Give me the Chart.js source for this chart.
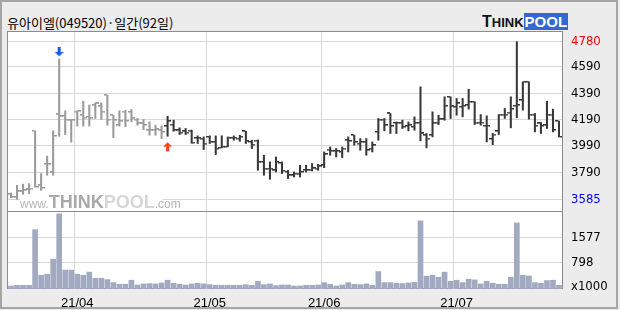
<!DOCTYPE html>
<html>
<head>
<meta charset="utf-8">
<script src="https://cdn.jsdelivr.net/npm/chart.js@4.4.1/dist/chart.umd.min.js"></script>
<style>
  body { margin: 0; background: #fff; }
  #wrap { position: relative; width: 620px; height: 310px; background: #ececec; overflow: hidden; }
  #frame { position: absolute; left: 0; top: 0; width: 614px; height: 305px; border: 2px solid #a6a6a6; }
  #panel { position: absolute; left: 7px; top: 31px; width: 554px; height: 256px; border: 1px solid #8c8c8c; background: #fff; }
  #sep { position: absolute; left: 7px; top: 211px; width: 556px; height: 1px; background: #8c8c8c; }
  #title { position: absolute; left: 7px; top: 13px; font: 13px "Noto Sans CJK KR", sans-serif; color: #000; white-space: nowrap; }
  #logo { position: absolute; left: 482px; top: 14px; height: 15px; font: bold 13px "Liberation Sans", Arial, sans-serif; white-space: nowrap; line-height: 15px; }
  #logo .k { color: #111; }
  #logo .k b { font-size: 16px; }
  #logo .p { background: #3467d2; color: #fff; padding: 0 1px; font-size: 15px; }
  #wm { position: absolute; left: 20px; top: 195px; width: 143px; height: 15px; background: #fff; white-space: nowrap;
        font: bold 18px "Liberation Sans", Arial, sans-serif; line-height: 15px; color: #a9a9a9; }
  #wm .s { font: 12px "Liberation Sans", Arial, sans-serif; color: #b4b4b4; }
  #wm .p { color: #d6d6d6; }
  #unit { position: absolute; left: 571px; top: 278px; font: 13px "Liberation Sans Narrow", "DejaVu Sans Condensed", sans-serif; color: #000; }
  canvas { position: absolute; }
</style>
</head>
<body>
<div id="wrap">
  <div id="frame"></div>
  <div id="panel"></div>
  <div id="sep"></div>
  <div id="title">유아이엘(049520)·일간(92일)</div>
  <div id="logo"><span class="k"><b>T</b>HINK</span><span class="p">POOL</span></div>
  <div style="position:absolute;left:0;top:32px;width:620px;height:179px"><canvas id="priceChart"></canvas></div>
  <div style="position:absolute;left:0;top:212px;width:620px;height:98px"><canvas id="volChart"></canvas></div>
  <div id="wm"><span class="s">www.</span>THINK<span class="p">POOL</span><span class="s">.com</span></div>
  <div id="unit">x1000</div>
</div>
<script>
// trading days, 2021-03-17 .. 2021-07-26
var marDays = [17, 18, 19, 22, 23, 24, 25, 26, 29, 30, 31];
var aprDays = [1, 2, 5, 6, 7, 8, 9, 12, 13, 14, 15, 16, 19, 20, 21, 22, 23, 26, 27, 28, 29, 30];
var mayDays = [3, 4, 6, 7, 10, 11, 12, 13, 14, 17, 18, 20, 21, 24, 25, 26, 27, 28, 31];
var junDays = [1, 2, 3, 4, 7, 8, 9, 10, 11, 14, 15, 16, 17, 18, 21, 22, 23, 24, 25, 28, 29, 30];
var julDays = [1, 2, 5, 6, 7, 8, 9, 12, 13, 14, 15, 16, 19, 20, 21, 22, 23, 26];

var opens = [3623, 3600, 3645, 3660, 4104, 3690, 3851, 3790, 4230, 4215, 4185, 4250, 4223, 4210, 4299, 4290,
  4375, 4223, 4147, 4250, 4248, 4190, 4160, 4109, 4110, 4109, 4140, 4152, 4109, 4101, 4105, 4050,
  4046, 4058, 4020, 3975, 3983, 4051, 4046, 4101, 4020, 4030, 3868, 3818, 3805, 3860, 3792, 3767,
  3780, 3805, 3810, 3818, 3843, 3962, 3952, 3944, 4033, 4071, 4008, 4020, 3970, 4096, 4190, 4236,
  4165, 4165, 4140, 4134, 4165, 4071, 4071, 4167, 4193, 4362, 4286, 4286, 4299, 4324, 4167, 4142,
  4041, 4101, 4228, 4243, 4294, 4337, 4476, 4228, 4160, 4147, 4228, 4178];
var highs = [3633, 3691, 3699, 3704, 4104, 3780, 3912, 4104, 4650, 4256, 4190, 4256, 4329, 4300, 4317, 4317,
  4375, 4223, 4256, 4260, 4266, 4198, 4190, 4172, 4147, 4142, 4215, 4185, 4127, 4122, 4110, 4066,
  4058, 4066, 4066, 4066, 4058, 4066, 4071, 4101, 4033, 4035, 3919, 3868, 3906, 3868, 3805, 3792,
  3843, 3843, 3856, 3850, 3944, 3982, 3970, 3982, 4058, 4071, 4046, 4046, 4020, 4198, 4198, 4236,
  4172, 4185, 4172, 4210, 4438, 4084, 4248, 4223, 4362, 4362, 4350, 4350, 4420, 4324, 4228, 4218,
  4084, 4228, 4274, 4362, 4780, 4476, 4476, 4236, 4167, 4329, 4269, 4178];
var lows = [3597, 3585, 3623, 3628, 3678, 3653, 3767, 3767, 4063, 4076, 4018, 4140, 4140, 4140, 4198, 4190,
  4147, 4053, 4140, 4135, 4172, 4147, 4114, 4071, 4071, 4046, 4063, 4101, 4076, 4076, 4010, 4008,
  3962, 4008, 3924, 3975, 3983, 4033, 4025, 4008, 3970, 3805, 3767, 3737, 3792, 3780, 3742, 3754,
  3754, 3792, 3800, 3805, 3825, 3919, 3906, 3901, 3944, 3995, 3957, 3919, 3944, 4033, 4104, 4084,
  4084, 4122, 4104, 4109, 4028, 3975, 4058, 4152, 4185, 4198, 4223, 4210, 4269, 4152, 4147, 4020,
  3999, 4076, 4198, 4127, 4203, 4261, 4193, 4096, 4084, 4122, 4096, 4058];
var closes = [3602, 3645, 3653, 3666, 3678, 3670, 3851, 4066, 4215, 4190, 4185, 4253, 4205, 4200, 4312, 4250,
  4190, 4185, 4180, 4180, 4198, 4160, 4147, 4109, 4115, 4096, 4177, 4109, 4091, 4091, 4015, 4048,
  4008, 4020, 3970, 3983, 4051, 4051, 4058, 4025, 4000, 3868, 3818, 3818, 3868, 3800, 3767, 3780,
  3792, 3805, 3820, 3835, 3927, 3952, 3952, 3970, 4028, 4020, 4020, 3957, 3995, 4190, 4147, 4140,
  4165, 4135, 4147, 4165, 4084, 4046, 4165, 4193, 4293, 4290, 4312, 4294, 4324, 4167, 4167, 4142,
  4076, 4228, 4228, 4269, 4299, 4476, 4228, 4142, 4142, 4228, 4109, 4058];
// volume, x1000 shares
var volumes = [92, 113, 113, 113, 1811, 421, 451, 912, 2293, 577, 577, 451, 421, 513, 328, 328,
  287, 195, 144, 144, 267, 123, 154, 164, 154, 185, 267, 175, 144, 123, 154, 175,
  154, 133, 113, 113, 113, 113, 113, 133, 113, 236, 133, 154, 103, 123, 123, 92,
  92, 113, 113, 123, 195, 144, 92, 123, 195, 144, 133, 154, 113, 533, 195, 195,
  175, 164, 185, 205, 2078, 390, 421, 359, 513, 236, 267, 195, 297, 277, 154, 236,
  175, 144, 144, 359, 2016, 421, 400, 195, 175, 257, 267, 113];

var priceTicks = [4780, 4590, 4390, 4190, 3990, 3790, 3585];
var volTicks = [798, 1577];
var sellIdx = 8;   // blue arrow
var buyIdx = 26;   // red arrow, bars from here on are drawn dark

var labels = [];
var monthStart = {};
[[3, marDays], [4, aprDays], [5, mayDays], [6, junDays], [7, julDays]].forEach(function (m) {
  m[1].forEach(function (d, k) {
    if (k === 0 && m[0] > 3) monthStart[labels.length] = '21/0' + m[0];
    labels.push('21/0' + m[0] + '/' + (d < 10 ? '0' : '') + d);
  });
});

var GREY = '#9a9a9a', DARK = '#383838';
function barColor(i) { return i < buyIdx ? GREY : DARK; }

function tickImg(color, left) {
  var c = document.createElement('canvas');
  c.width = 7; c.height = 2;
  var g = c.getContext('2d');
  g.fillStyle = color;
  g.fillRect(left ? 0 : 4, 0, 3, 1.5);
  return c;
}
var openImgs = { g: tickImg(GREY, true), d: tickImg(DARK, true) };
var closeImgs = { g: tickImg(GREY, false), d: tickImg(DARK, false) };

function arrowImg(color, down) {
  var c = document.createElement('canvas');
  c.width = 9; c.height = down ? 24 : 32;
  var g = c.getContext('2d');
  g.fillStyle = color;
  if (down) {
    g.fillRect(3, 0, 3, 5);
    g.beginPath(); g.moveTo(0, 5); g.lineTo(9, 5); g.lineTo(4.5, 9.5); g.fill();
  } else {
    g.beginPath(); g.moveTo(4.5, 22); g.lineTo(9, 26.5); g.lineTo(0, 26.5); g.fill();
    g.fillRect(3, 26.5, 3, 4.5);
  }
  return c;
}

var hl = labels.map(function (_, i) { return [lows[i], highs[i]]; });
var sellData = labels.map(function (_, i) { return i === sellIdx ? highs[i] : null; });
var buyData = labels.map(function (_, i) { return i === buyIdx ? lows[i] : null; });

var axisFont = { family: '"Liberation Sans Narrow", "DejaVu Sans Condensed", sans-serif', size: 13 };
function monthGrid(ctx) {
  return monthStart[ctx.index] ? '#d8d8d8' : 'rgba(0,0,0,0)';
}
function noPad(s) {
  s.paddingTop = 0; s.paddingBottom = 0; s.paddingLeft = 0; s.paddingRight = 0;
}

var priceChart = new Chart(document.getElementById('priceChart'), {
  type: 'bar',
  data: {
    labels: labels,
    datasets: [
      { data: hl, barThickness: 1.4, backgroundColor: function (c) { return barColor(c.dataIndex); } },
      { type: 'line', data: opens, showLine: false, borderWidth: 0,
        pointStyle: function (c) { return c.dataIndex < buyIdx ? openImgs.g : openImgs.d; } },
      { type: 'line', data: closes, showLine: false, borderWidth: 0,
        pointStyle: function (c) { return c.dataIndex < buyIdx ? closeImgs.g : closeImgs.d; } },
      { type: 'line', data: sellData, showLine: false, borderWidth: 0, pointStyle: arrowImg('#1a5fe0', true) },
      { type: 'line', data: buyData, showLine: false, borderWidth: 0, pointStyle: arrowImg('#ff3a10', false) }
    ]
  },
  options: {
    responsive: true,
    maintainAspectRatio: false,
    animation: false,
    events: [],
    layout: { autoPadding: false, padding: { left: 8, right: 0, top: 0, bottom: 0 } },
    plugins: { legend: { display: false }, tooltip: { enabled: false } },
    scales: {
      x: {
        offset: true,
        ticks: { display: false },
        grid: { offset: true, drawTicks: false, color: monthGrid },
        border: { display: false },
        afterFit: function (s) { s.height = 0; noPad(s); }
      },
      y: {
        position: 'right',
        min: 3496, max: 4854,
        afterBuildTicks: function (s) { s.ticks = priceTicks.map(function (v) { return { value: v }; }); },
        ticks: {
          font: axisFont, padding: 9,
          callback: function (v) { return String(v); },
          color: function (c) { return c.tick.value === 4780 ? '#ff0000' : c.tick.value === 3585 ? '#0000ff' : '#000'; }
        },
        grid: { color: '#d8d8d8', drawTicks: false },
        border: { display: false },
        afterFit: function (s) { s.width = 58; noPad(s); }
      }
    }
  }
});

var volChart = new Chart(document.getElementById('volChart'), {
  type: 'bar',
  data: {
    labels: labels,
    datasets: [{ data: volumes, barThickness: 5, backgroundColor: '#a2aac2' }]
  },
  options: {
    responsive: true,
    maintainAspectRatio: false,
    animation: false,
    events: [],
    layout: { autoPadding: false, padding: { left: 8, right: 0, top: 0, bottom: 0 } },
    plugins: { legend: { display: false }, tooltip: { enabled: false } },
    scales: {
      x: {
        offset: true,
        ticks: {
          autoSkip: false, maxRotation: 0, padding: 7, color: '#000',
          font: { family: '"Liberation Sans", Arial, sans-serif', size: 13 },
          callback: function (v, i) { return monthStart[i] || ''; }
        },
        grid: { offset: true, drawTicks: false, color: monthGrid },
        border: { display: false },
        afterFit: function (s) { s.height = 21; noPad(s); }
      },
      y: {
        position: 'right',
        min: 0, max: 2350,
        afterBuildTicks: function (s) { s.ticks = volTicks.map(function (v) { return { value: v }; }); },
        ticks: { font: axisFont, padding: 9, color: '#000', callback: function (v) { return String(v); } },
        grid: { color: '#d8d8d8', drawTicks: false },
        border: { display: false },
        afterFit: function (s) { s.width = 58; noPad(s); }
      }
    }
  }
});
</script>
</body>
</html>
